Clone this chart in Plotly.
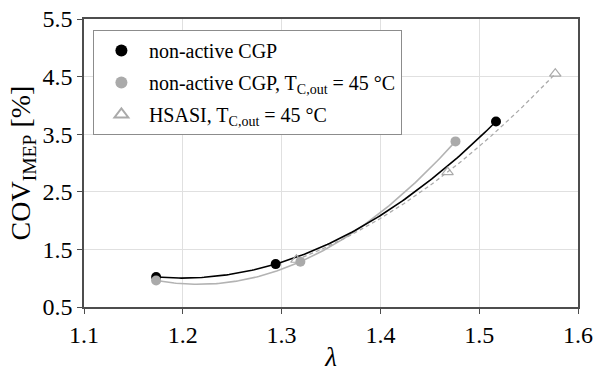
import numpy as np
import plotly.graph_objects as go

# Data
lam_cgp = [1.173, 1.294, 1.517]
cov_cgp = [1.02, 1.245, 3.72]

lam_cgp45 = [1.173, 1.319, 1.476]
cov_cgp45 = [0.96, 1.285, 3.375]

lam_hsasi = [1.315, 1.468, 1.577]
cov_hsasi = [1.32, 2.84, 4.55]

x_ticks = [1.1, 1.2, 1.3, 1.4, 1.5, 1.6]
y_ticks = [0.5, 1.5, 2.5, 3.5, 4.5, 5.5]

FONT = "Liberation Serif"


def trend(xs, ys, n=150):
    """Second-order polynomial trend line through the measured points."""
    c = np.polyfit(xs, ys, 2)
    xx = np.linspace(min(xs), max(xs), n)
    return xx, np.polyval(c, xx)


fig = go.Figure()

# trend lines
xx, yy = trend(lam_cgp45, cov_cgp45)
fig.add_trace(go.Scatter(x=xx, y=yy, mode="lines", showlegend=False,
                         line=dict(color="#b3b3b3", width=1.6), hoverinfo="skip"))
xx, yy = trend(lam_hsasi, cov_hsasi)
fig.add_trace(go.Scatter(x=xx, y=yy, mode="lines", showlegend=False,
                         line=dict(color="#aaaaaa", width=1.3, dash="4px,3px"), hoverinfo="skip"))
xx, yy = trend(lam_cgp, cov_cgp)
fig.add_trace(go.Scatter(x=xx, y=yy, mode="lines", showlegend=False,
                         line=dict(color="black", width=1.6), hoverinfo="skip"))

# markers
fig.add_trace(go.Scatter(x=lam_cgp, y=cov_cgp, mode="markers", name="non-active CGP",
                         legendgroup="a",
                         marker=dict(color="black", size=10, symbol="circle")))
fig.add_trace(go.Scatter(x=lam_cgp45, y=cov_cgp45, mode="markers",
                         name="non-active CGP, T<sub>C,out</sub> = 45 °C", legendgroup="b",
                         marker=dict(color="#aaaaaa", size=10, symbol="circle")))
fig.add_trace(go.Scatter(x=lam_hsasi, y=cov_hsasi, mode="markers",
                         name="HSASI, T<sub>C,out</sub> = 45 °C", legendgroup="c",
                         marker=dict(color="#aaaaaa", size=10, symbol="triangle-up-open",
                                     line=dict(width=1.2, color="#aaaaaa"))))

axis_common = dict(
    showline=True, linecolor="#4d4d4d", linewidth=1.5, mirror=True,
    ticks="outside", ticklen=5, tickcolor="#4d4d4d", tickwidth=1,
    showgrid=True, gridcolor="#e0e0e0", gridwidth=1.2, zeroline=False,
    automargin=False,
)

fig.update_layout(
    width=595, height=372,
    margin=dict(l=84, r=17, t=19, b=65),
    paper_bgcolor="white", plot_bgcolor="white",
    font=dict(family=FONT, color="black", size=24),
    xaxis=dict(range=[1.1, 1.6], tickvals=x_ticks, tickformat=".1f",
               title=dict(text="<i>λ</i>", font=dict(family=FONT, size=27), standoff=4),
               **axis_common),
    yaxis=dict(range=[0.5, 5.5], tickvals=y_ticks, tickformat=".1f",
               title=dict(text="COV<sub>IMEP</sub> [%]", font=dict(family=FONT, size=28), standoff=4),
               **axis_common),
    legend=dict(x=0.018, y=0.962, xanchor="left", yanchor="top",
                bgcolor="white", bordercolor="#8c8c8c", borderwidth=1,
                font=dict(family=FONT, size=20, color="black"),
                tracegroupgap=3, itemsizing="constant", itemwidth=45),
    showlegend=True,
)
fig.update_xaxes(tickfont=dict(family=FONT, size=24, color="black"))
fig.update_yaxes(tickfont=dict(family=FONT, size=24, color="black"))

fig.write_html("out.html")
